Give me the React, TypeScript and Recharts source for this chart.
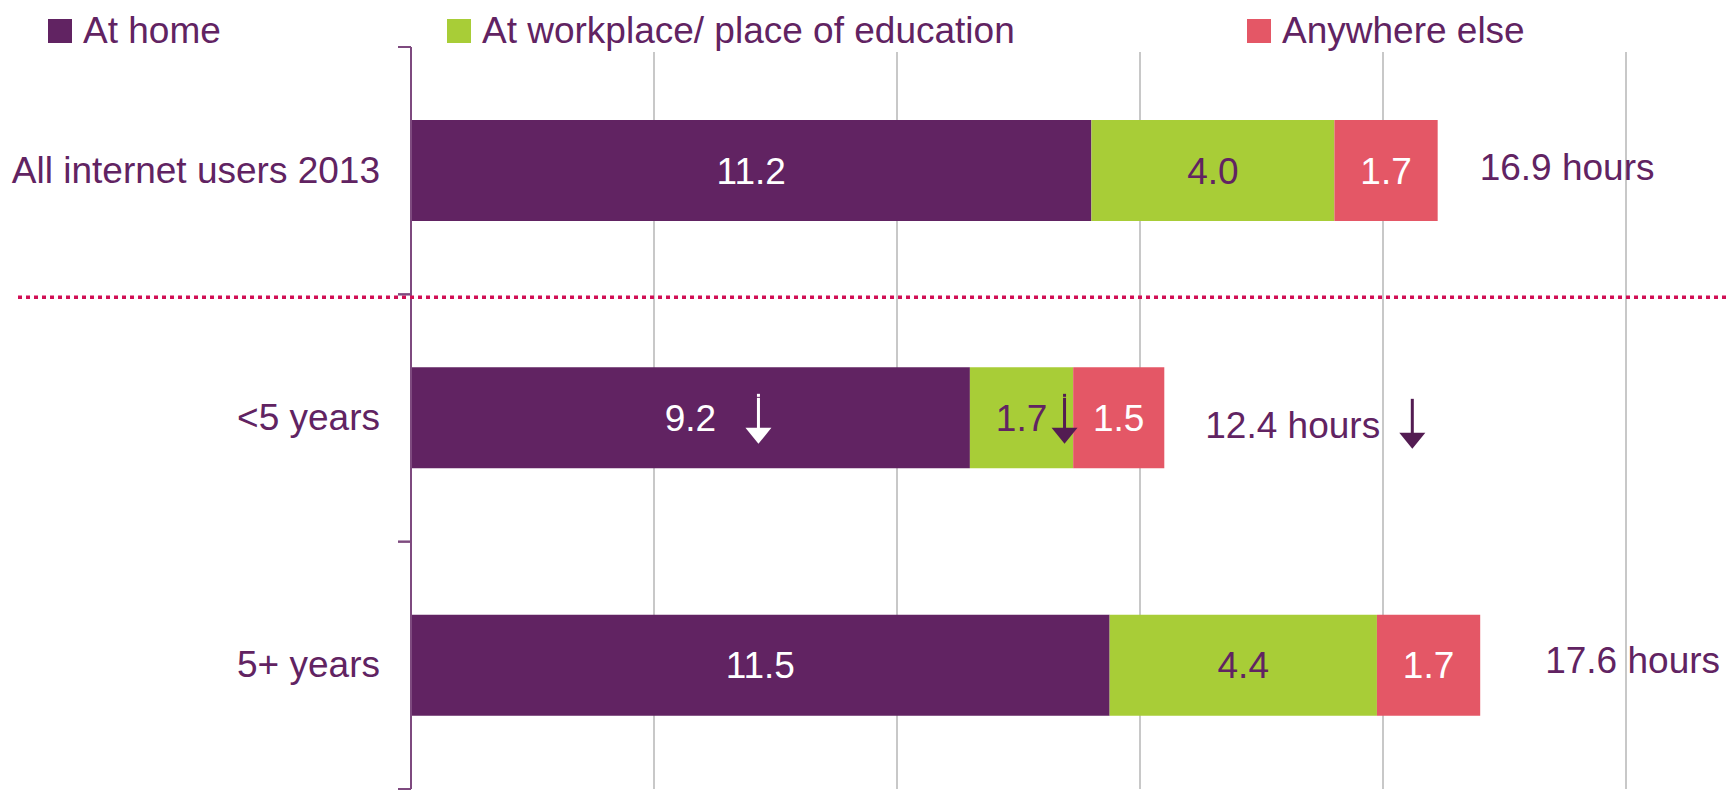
import { BarChart, Bar, XAxis, YAxis, CartesianGrid, LabelList } from 'recharts'

document.body.style.margin = '0'

const CATEGORIES = ['All internet users 2013', '<5 years', '5+ years']
const AT_HOME = [11.2, 9.2, 11.5]
const AT_WORK = [4.0, 1.7, 4.4]
const ELSEWHERE = [1.7, 1.5, 1.7]
const TOTALS = [16.9, 12.4, 17.6]
// rows flagged with a significant decrease arrow
const DOWN_HOME = [false, true, false]
const DOWN_WORK = [false, true, false]
const DOWN_TOTAL = [false, true, false]
const X_TICKS = [0, 4, 8, 12, 16, 20]
const SERIES_NAMES = ['At home', 'At workplace/ place of education', 'Anywhere else']

const PURPLE = '#612362'
const ARROW_PURPLE = '#531c52'
const GREEN = '#a8cd37'
const RED = '#e45766'
const AXIS_COLOR = '#7e4a7f'
const GRID_COLOR = '#c8c8c8'
const DIVIDER = '#d10f55'
const FONT = '"Liberation Sans", Arial, sans-serif'
const FS = 37

const W = 1730
const H = 793
const MARGIN = { top: 47, right: 104, bottom: 4, left: 0 }
const AXIS_W = 411
const BAND = (H - MARGIN.top - MARGIN.bottom) / CATEGORIES.length

// hand placed total labels in the original
const TOTAL_NUDGE = [
  { dx: 42, dy: 9 },
  { dx: 41, dy: 20 },
  { dx: 65, dy: 8 },
]

const data = CATEGORIES.map((name, i) => ({
  name,
  home: AT_HOME[i],
  work: AT_WORK[i],
  other: ELSEWHERE[i],
}))

const rowOf = (y: number, h: number) =>
  Math.floor((y + h / 2 - MARGIN.top) / BAND)

function DownArrow({ x, cy, color, dot = true }: { x: number; cy: number; color: string; dot?: boolean }) {
  return (
    <g>
      {dot && <rect x={x - 1.5} y={cy - 24} width={3} height={3} fill={color} />}
      <rect x={x - 1.5} y={dot ? cy - 20 : cy - 24} width={3} height={dot ? 31 : 35} fill={color} />
      <polygon
        points={`${x - 13},${cy + 10} ${x + 13},${cy + 10} ${x},${cy + 26}`}
        fill={color}
      />
    </g>
  )
}

function makeSegmentLabel(color: string, arrows: boolean[], arrowDx: number, arrowColor: string) {
  return function SegmentLabel(props: any) {
    const x = Number(props.x)
    const y = Number(props.y)
    const w = Number(props.width)
    const h = Number(props.height)
    const row = rowOf(y, h)
    const cx = x + w / 2
    const cy = y + h / 2
    return (
      <g>
        <text
          x={cx}
          y={cy + 13}
          textAnchor="middle"
          fontSize={FS}
          fontFamily={FONT}
          fill={color}
        >
          {Number(props.value).toFixed(1)}
        </text>
        {arrows[row] && <DownArrow x={cx + arrowDx} cy={cy} color={arrowColor} />}
      </g>
    )
  }
}

function TotalLabel(props: any) {
  const x = Number(props.x)
  const y = Number(props.y)
  const w = Number(props.width)
  const h = Number(props.height)
  const row = rowOf(y, h)
  const nudge = TOTAL_NUDGE[row] ?? { dx: 42, dy: 10 }
  const tx = x + w + nudge.dx
  const cy = y + h / 2
  return (
    <g>
      <text
        x={tx}
        y={cy + nudge.dy}
        fontSize={FS}
        fontFamily={FONT}
        fill={PURPLE}
      >
        {TOTALS[row].toFixed(1)} hours
      </text>
      {DOWN_TOTAL[row] && (
        <DownArrow x={tx + 207} cy={cy + 5} color={ARROW_PURPLE} dot={false} />
      )}
    </g>
  )
}

function CategoryTick(props: any) {
  const y = Number(props.y)
  const value = props.payload?.value as string
  return (
    <g>
      <text
        x={AXIS_W - 31}
        y={y + 12}
        textAnchor="end"
        fontSize={FS}
        fontFamily={FONT}
        fill={PURPLE}
      >
        {value}
      </text>
      <line x1={AXIS_W - 13} x2={AXIS_W} y1={y - BAND / 2} y2={y - BAND / 2} stroke={AXIS_COLOR} strokeWidth={2} />
      <line x1={AXIS_W - 13} x2={AXIS_W} y1={y + BAND / 2} y2={y + BAND / 2} stroke={AXIS_COLOR} strokeWidth={2} />
      {value === CATEGORIES[0] && (
        <line
          x1={18}
          x2={W}
          y1={y + BAND / 2 + 3}
          y2={y + BAND / 2 + 3}
          stroke={DIVIDER}
          strokeWidth={3.5}
          strokeDasharray="4 4"
        />
      )}
    </g>
  )
}

function LegendRow() {
  const colors = [PURPLE, GREEN, RED]
  const lefts = [48, 447, 1247]
  return (
    <svg
      width={W}
      height={60}
      style={{ position: 'absolute', top: 0, left: 0, pointerEvents: 'none' }}
    >
      {SERIES_NAMES.map((name, i) => (
        <g key={name}>
          <rect x={lefts[i]} y={19} width={24} height={24} fill={colors[i]} />
          <text x={lefts[i] + 35} y={43} fontSize={FS} fontFamily={FONT} fill={PURPLE}>
            {name}
          </text>
        </g>
      ))}
    </svg>
  )
}

export default function App() {
  return (
    <div style={{ position: 'relative', width: W, height: H, background: '#fff' }}>
      <BarChart
        width={W}
        height={H}
        data={data}
        layout="vertical"
        margin={MARGIN}
      >
        <CartesianGrid
          horizontal={false}
          stroke={GRID_COLOR}
          strokeWidth={2}
          y={52}
          height={H - MARGIN.bottom - 52}
        />
        <XAxis type="number" domain={[0, 20]} ticks={X_TICKS} hide />
        <YAxis
          type="category"
          dataKey="name"
          width={AXIS_W}
          tickLine={false}
          axisLine={{ stroke: AXIS_COLOR, strokeWidth: 2 }}
          tick={<CategoryTick />}
          interval={0}
        />
        <Bar dataKey="home" stackId="a" fill={PURPLE} barSize={101} isAnimationActive={false}>
          <LabelList dataKey="home" content={makeSegmentLabel('#ffffff', DOWN_HOME, 68, '#ffffff')} />
        </Bar>
        <Bar dataKey="work" stackId="a" fill={GREEN} barSize={101} isAnimationActive={false}>
          <LabelList dataKey="work" content={makeSegmentLabel(PURPLE, DOWN_WORK, 43, ARROW_PURPLE)} />
        </Bar>
        <Bar dataKey="other" stackId="a" fill={RED} barSize={101} isAnimationActive={false}>
          <LabelList dataKey="other" content={makeSegmentLabel('#ffffff', [false, false, false], 0, '#ffffff')} />
          <LabelList dataKey="other" content={TotalLabel} />
        </Bar>
      </BarChart>
      <LegendRow />
    </div>
  )
}
